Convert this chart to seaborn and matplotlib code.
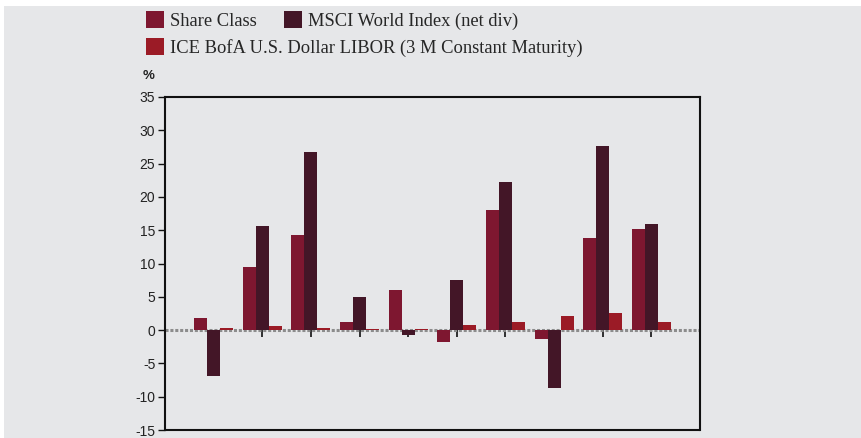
import numpy as np
import pandas as pd
import matplotlib
matplotlib.use('Agg')
import matplotlib.pyplot as plt
import seaborn as sns
from matplotlib.patches import Rectangle

# data
periods = ['P1', 'P2', 'P3', 'P4', 'P5', 'P6', 'P7', 'P8', 'P9', 'P10']
share_class = [1.8, 9.4, 14.3, 1.2, 6.0, -1.8, 18.1, -1.3, 13.8, 15.2]
msci_world = [-6.9, 15.7, 26.7, 4.9, -0.8, 7.5, 22.3, -8.7, 27.7, 15.9]
libor = [0.3, 0.6, 0.3, 0.2, 0.2, 0.7, 1.2, 2.1, 2.5, 1.2]

series_names = ['Share Class', 'MSCI World Index (net div)',
                'ICE BofA U.S. Dollar LIBOR (3 M Constant Maturity)']
series_colors = ['#7e1730', '#431627', '#9b1b26']
y_ticks = [-15, -10, -5, 0, 5, 10, 15, 20, 25, 30, 35]

df = pd.DataFrame({
    'period': periods * 3,
    'series': np.repeat(series_names, len(periods)),
    'value': share_class + msci_world + libor,
})

bg = '#e6e7e9'
sns.set_style('white')
plt.rcParams['font.family'] = ['Liberation Sans', 'DejaVu Sans']

fig = plt.figure(figsize=(8.62, 4.38), dpi=100)
fig.patch.set_facecolor('white')
# grey panel behind everything
fig.add_artist(Rectangle((4 / 862, 0), 1 - 4 / 862, 1 - 6 / 438,
                         transform=fig.transFigure, facecolor=bg,
                         edgecolor='none', zorder=-10))

ax = fig.add_axes([165 / 862, 1 - 430 / 438, (700 - 165) / 862, (430 - 97) / 438])
ax.set_facecolor(bg)

sns.barplot(data=df, x='period', y='value', hue='series', hue_order=series_names,
            palette=series_colors, width=0.8, saturation=1, ax=ax, legend=True,
            linewidth=0, zorder=3)

ax.set_xlim(-1, len(periods))
ax.set_ylim(-15, 35)
ax.set_yticks(y_ticks)
ax.set_yticklabels([str(t) for t in y_ticks], fontsize=10, color='#222222')
ax.set_xlabel('')
ax.set_ylabel('')

# dotted zero line behind the bars
ax.axhline(0, color='#8c8c8c', lw=2.2, ls=(0, (1, 0.6)), zorder=2)

# bottom spine moved to zero (hidden) so x ticks hang below the zero line
ax.spines['bottom'].set_position(('data', 0))
ax.spines['bottom'].set_color('none')
ax.set_xticks(range(len(periods)))
ax.set_xticklabels([])
ax.tick_params(axis='x', bottom=True, direction='out', length=5, width=1.2,
               color='#111111', pad=0)
ax.tick_params(axis='y', left=True, direction='out', length=5, width=1,
               color='#111111', pad=2)

for side in ['left', 'top', 'right']:
    ax.spines[side].set_color('#111111')
    ax.spines[side].set_linewidth(1.5)
# frame bottom at -15
ax.axhline(-15, color='#111111', lw=1.5, clip_on=False, zorder=5)

fig.text(143 / 862, 1 - 76 / 438, '%', fontsize=9.5, fontweight='bold',
         color='#222222', va='center', ha='left')

handles, labels = ax.get_legend_handles_labels()
ax.get_legend().remove()
legend_font = {'family': 'Liberation Serif', 'size': 13.3}
common = dict(loc='upper left', frameon=False, prop=legend_font,
              handlelength=0.95, handleheight=1.0, handletextpad=0.35,
              borderpad=0, borderaxespad=0, bbox_transform=fig.transFigure)
fig.legend(handles[:2], labels[:2], ncol=2, columnspacing=1.5,
           bbox_to_anchor=(146 / 862, 1 - 11 / 438), **common)
fig.legend(handles[2:], labels[2:], ncol=1,
           bbox_to_anchor=(146 / 862, 1 - 38 / 438), **common)

fig.savefig('out.png', dpi=100, facecolor=fig.get_facecolor())
